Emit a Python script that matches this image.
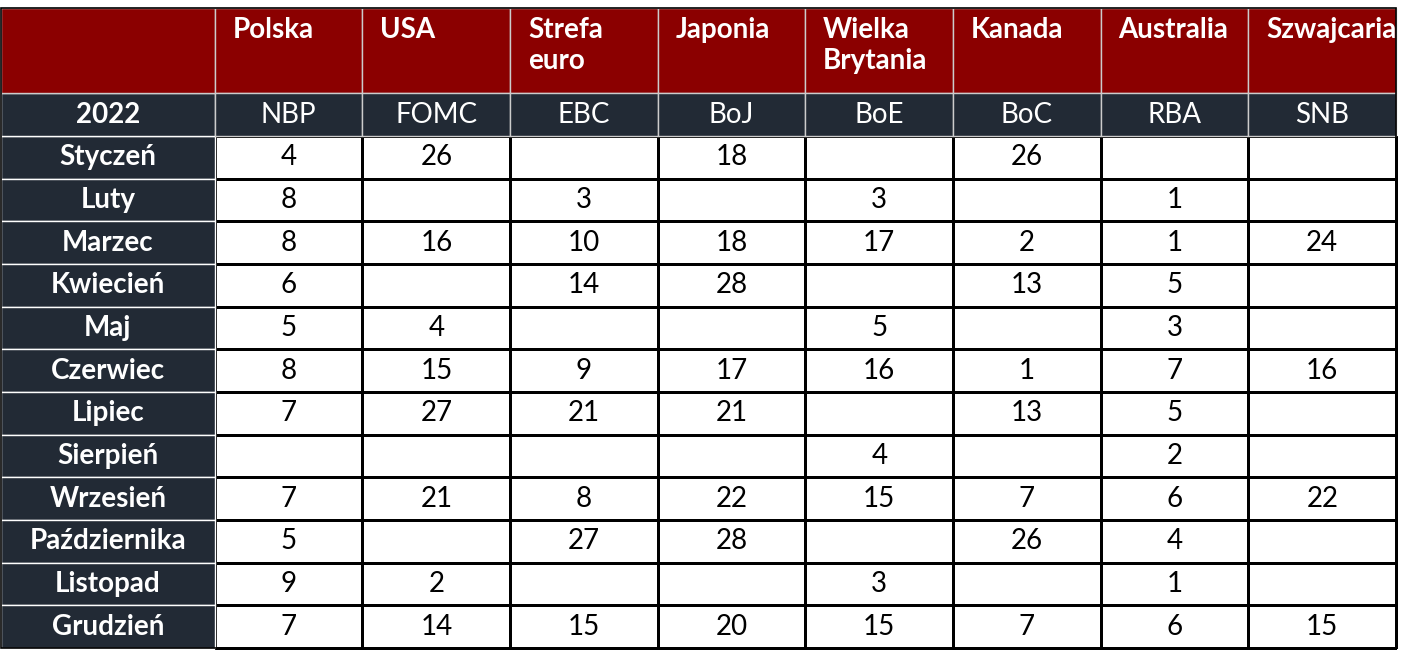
import numpy as np, pandas as pd, seaborn as sns, matplotlib
matplotlib.use("Agg")
import matplotlib.pyplot as plt
from matplotlib.patches import Rectangle
from matplotlib.colors import ListedColormap

countries = ["Polska", "USA", "Strefa\neuro", "Japonia", "Wielka\nBrytania", "Kanada", "Australia", "Szwajcaria"]
banks = ["NBP", "FOMC", "EBC", "BoJ", "BoE", "BoC", "RBA", "SNB"]
year = "2022"
months = ["Styczeń", "Luty", "Marzec", "Kwiecień", "Maj", "Czerwiec", "Lipiec", "Sierpień",
          "Wrzesień", "Października", "Listopad", "Grudzień"]
NBP  = [4, 8, 8, 6, 5, 8, 7, None, 7, 5, 9, 7]
FOMC = [26, None, 16, None, 4, 15, 27, None, 21, None, 2, 14]
EBC  = [None, 3, 10, 14, None, 9, 21, None, 8, 27, None, 15]
BoJ  = [18, None, 18, 28, None, 17, 21, None, 22, 28, None, 20]
BoE  = [None, 3, 17, None, 5, 16, None, 4, 15, None, 3, 15]
BoC  = [26, None, 2, 13, None, 1, 13, None, 7, 26, None, 7]
RBA  = [None, 1, 1, 5, 3, 7, 5, 2, 6, 4, 1, 6]
SNB  = [None, None, 24, None, None, 16, None, None, 22, None, None, 15]

RED = "#8b0000"; NAVY = "#222a35"
font = "Lato"
FS = 20
df = pd.DataFrame({b: v for b, v in zip(banks, [NBP, FOMC, EBC, BoJ, BoE, BoC, RBA, SNB])}, index=months)
labels = df.apply(lambda c: c.map(lambda v: "" if pd.isna(v) else str(int(v))))

fig = plt.figure(figsize=(14.02, 6.54), dpi=100)
ax = fig.add_axes([0, 0, 1, 1])
sns.heatmap(np.zeros(df.shape), ax=ax, cmap=ListedColormap(["white"]), cbar=False,
            annot=labels.values, fmt="", linewidths=1.0, linecolor="black",
            annot_kws=dict(fontsize=FS, color="black", family=font))
ax.set_xticks([]); ax.set_yticks([])
LW = 1.45
for i, m in enumerate(months):
    ax.add_patch(Rectangle((-LW, i), LW, 1, facecolor=NAVY, edgecolor="white", lw=1))
    ax.text(-LW / 2, i + 0.5, m, ha="center", va="center", color="white", fontsize=FS,
            fontweight="bold", family=font)
ax.add_patch(Rectangle((-LW, -1), LW, 1, facecolor=NAVY, edgecolor="white", lw=1))
ax.text(-LW / 2, -0.5, year, ha="center", va="center", color="white", fontsize=FS, fontweight="bold", family=font)
ax.add_patch(Rectangle((-LW, -3), LW, 2, facecolor=RED, edgecolor="#cccccc", lw=1))
for j, (c, b) in enumerate(zip(countries, banks)):
    ax.add_patch(Rectangle((j, -3), 1, 2, facecolor=RED, edgecolor="#cccccc", lw=1))
    ax.text(j + 0.12, -2.78, c, ha="left", va="top", color="white", fontsize=FS,
            fontweight="bold", family=font, linespacing=1.2)
    ax.add_patch(Rectangle((j, -1), 1, 1, facecolor=NAVY, edgecolor="#cccccc", lw=1))
    ax.text(j + 0.5, -0.5, b, ha="center", va="center", color="white", fontsize=FS, family=font)
ax.add_patch(Rectangle((-LW, -3), LW + 8, 15, fill=False, edgecolor="black", lw=1.2))
ax.set_xlim(-LW - 0.005, 8.04)
ax.set_ylim(12.14, -3.19)
for s in ax.spines.values():
    s.set_visible(False)
fig.savefig("out.png", dpi=100)
